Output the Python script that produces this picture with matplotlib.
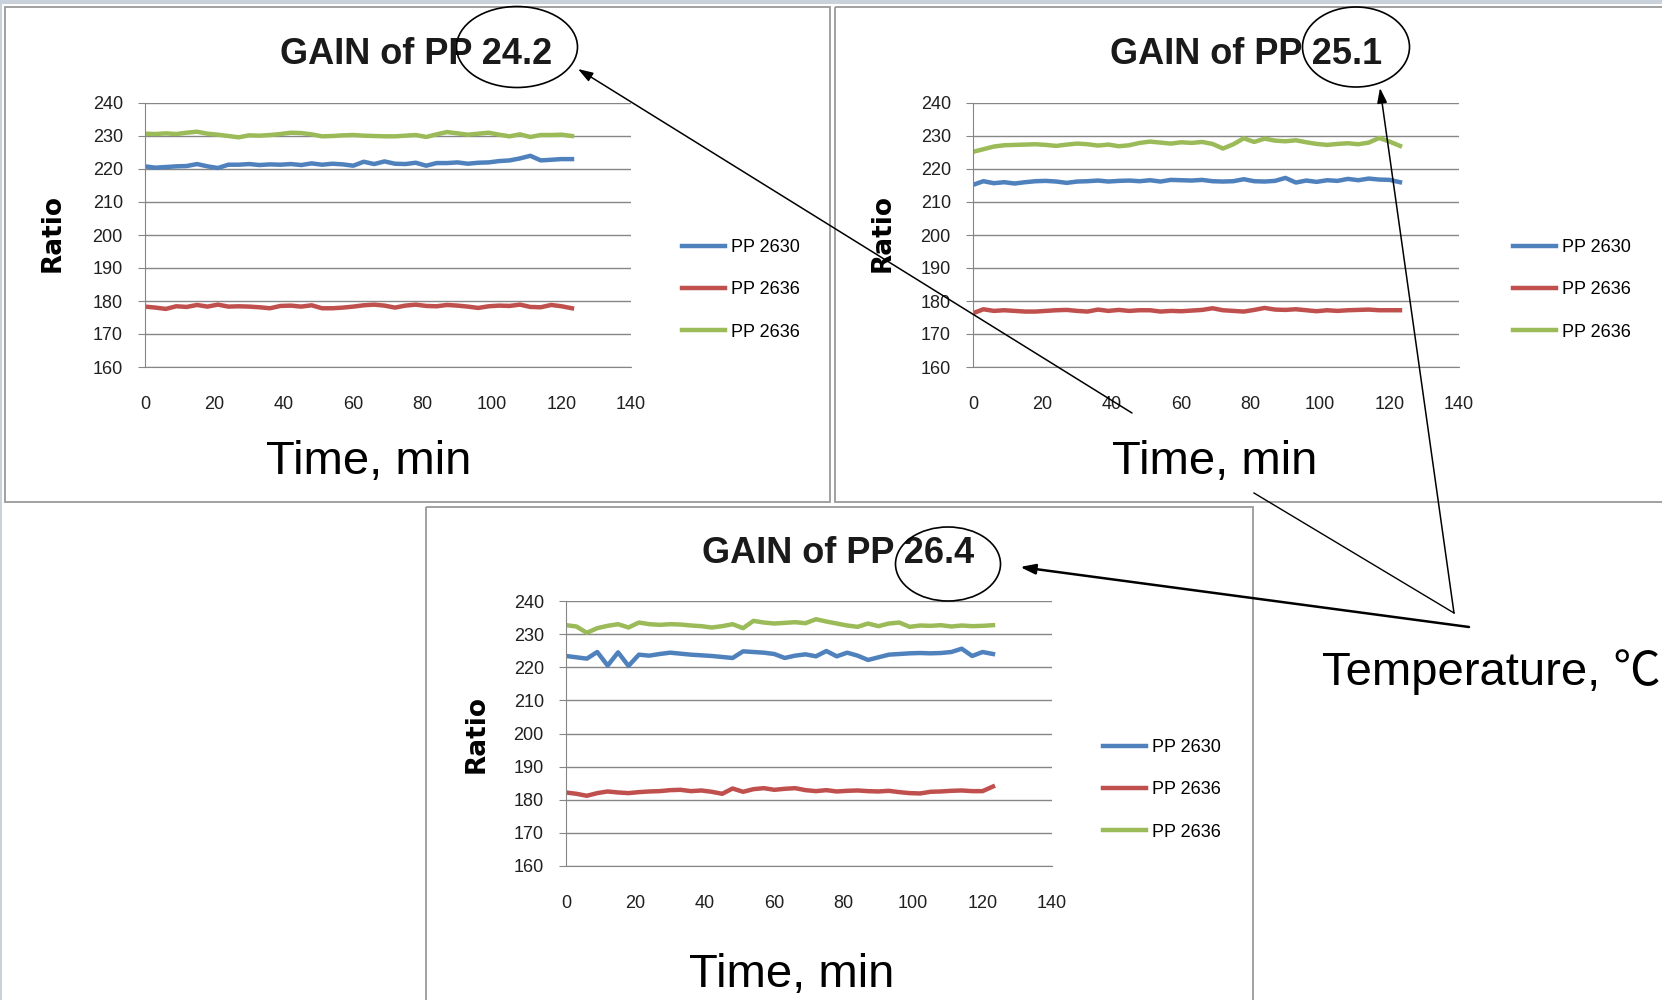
import numpy as np
import matplotlib
matplotlib.use('Agg')
import matplotlib.pyplot as plt
from matplotlib.patches import Ellipse, Rectangle

W, H = 1662, 1000

# time axis (min), one reading every 3 minutes
time = np.arange(0, 124, 3)

# --- 24.2 C ---
blue_242 = [220.8, 220.4, 220.6, 220.8, 220.9, 221.5, 220.8, 220.3, 221.3, 221.3, 221.5,
            221.2, 221.4, 221.3, 221.5, 221.2, 221.7, 221.3, 221.6, 221.4, 221.0, 222.2,
            221.5, 222.3, 221.6, 221.5, 221.9, 221.0, 221.8, 221.8, 222.0, 221.6, 221.9,
            222.0, 222.4, 222.6, 223.2, 224.0, 222.6, 222.8, 223.0, 223.0]
red_242 = [178.3, 178.0, 177.6, 178.4, 178.2, 178.8, 178.3, 178.9, 178.3, 178.4, 178.3,
           178.1, 177.8, 178.5, 178.6, 178.3, 178.7, 177.8, 177.8, 178.0, 178.3, 178.7,
           178.9, 178.6, 178.0, 178.6, 178.9, 178.5, 178.4, 178.8, 178.6, 178.3, 177.9,
           178.4, 178.6, 178.5, 178.9, 178.2, 178.1, 178.8, 178.4, 177.8]
green_242 = [230.7, 230.6, 230.8, 230.6, 231.0, 231.3, 230.7, 230.4, 230.0, 229.6, 230.2,
             230.1, 230.3, 230.6, 231.0, 230.9, 230.5, 229.9, 230.0, 230.2, 230.3, 230.1,
             230.0, 229.9, 229.9, 230.1, 230.3, 229.7, 230.5, 231.2, 230.8, 230.4, 230.7,
             231.0, 230.4, 229.9, 230.5, 229.7, 230.3, 230.3, 230.4, 230.0]

# --- 25.1 C ---
blue_251 = [215.2, 216.3, 215.7, 216.0, 215.6, 216.0, 216.3, 216.4, 216.2, 215.8, 216.2,
            216.3, 216.5, 216.2, 216.4, 216.5, 216.3, 216.6, 216.2, 216.7, 216.6, 216.5,
            216.7, 216.3, 216.2, 216.3, 216.9, 216.3, 216.2, 216.4, 217.3, 215.9, 216.5,
            216.1, 216.6, 216.4, 217.0, 216.6, 217.1, 216.8, 216.7, 216.0]
red_251 = [176.3, 177.5, 177.0, 177.2, 177.0, 176.8, 176.8, 177.0, 177.2, 177.3, 177.0,
           176.8, 177.4, 177.0, 177.3, 177.0, 177.2, 177.2, 176.8, 177.0, 176.9, 177.1,
           177.3, 177.8, 177.2, 177.0, 176.8, 177.3, 177.9, 177.4, 177.3, 177.5, 177.2,
           176.9, 177.2, 177.0, 177.2, 177.3, 177.4, 177.2, 177.2, 177.2]
green_251 = [225.2, 226.0, 226.8, 227.2, 227.3, 227.4, 227.5, 227.3, 227.0, 227.4, 227.7,
             227.5, 227.1, 227.4, 226.9, 227.2, 227.9, 228.3, 228.0, 227.7, 228.1, 227.9,
             228.2, 227.6, 226.2, 227.5, 229.3, 228.2, 229.2, 228.6, 228.4, 228.7, 228.1,
             227.6, 227.3, 227.6, 227.8, 227.5, 228.0, 229.4, 228.3, 227.0]

# --- 26.4 C ---
blue_264 = [223.4, 223.0, 222.6, 224.6, 220.5, 224.5, 220.4, 223.8, 223.5, 224.0, 224.4,
            224.1, 223.8, 223.6, 223.4, 223.1, 222.8, 224.8, 224.6, 224.4, 224.0, 222.8,
            223.5, 223.9, 223.3, 224.9, 223.3, 224.4, 223.5, 222.2, 223.0, 223.8, 224.0,
            224.2, 224.3, 224.2, 224.3, 224.6, 225.6, 223.4, 224.6, 224.0]
red_264 = [182.2, 181.8, 181.2, 182.0, 182.5, 182.2, 182.0, 182.3, 182.5, 182.6, 182.9,
           183.0, 182.6, 182.8, 182.4, 181.8, 183.4, 182.4, 183.2, 183.5, 183.0, 183.3,
           183.5, 182.9, 182.6, 182.9, 182.5, 182.7, 182.8, 182.6, 182.5, 182.7, 182.3,
           182.0, 181.9, 182.4, 182.5, 182.7, 182.8, 182.6, 182.6, 184.0]
green_264 = [232.7, 232.3, 230.4, 231.8, 232.5, 233.0, 232.0, 233.5, 233.0, 232.8, 233.0,
             232.9, 232.6, 232.4, 232.0, 232.4, 233.0, 231.8, 234.0, 233.5, 233.2, 233.4,
             233.6, 233.3, 234.5, 233.8, 233.2, 232.6, 232.2, 233.2, 232.4, 233.2, 233.5,
             232.2, 232.6, 232.5, 232.7, 232.3, 232.6, 232.4, 232.5, 232.7]

series_names = ['PP 2630', 'PP 2636', 'PP 2636']
colors = ['#4F81BD', '#C0504D', '#9BBB59']
temps = ['24.2', '25.1', '26.4']
xticks = [0, 20, 40, 60, 80, 100, 120, 140]
yticks = [160, 170, 180, 190, 200, 210, 220, 230, 240]

TICKFONT = ['Liberation Sans', 'DejaVu Sans']
TITLEFONT = ['Liberation Sans', 'DejaVu Sans']
BIGFONT = ['Liberation Sans', 'DejaVu Sans']

fig = plt.figure(figsize=(W / 100, H / 100), dpi=100)
fig.patch.set_facecolor('white')


def px(x, y):
    # pixel (from top-left) -> figure fraction
    return x / W, 1 - y / H


# panel layout in pixels: axes box (left, top, right, bottom), legend anchor, title, xlabel, ylabel
panels = [
    dict(ax=(145, 103, 631, 367), leg=(682, 290), title=(416, 64), xl=(369, 474), yl=(53, 233),
         data=(blue_242, red_242, green_242)),
    dict(ax=(973, 103, 1459, 367), leg=(1513, 290), title=(1246, 64), xl=(1215, 474), yl=(883, 233),
         data=(blue_251, red_251, green_251)),
    dict(ax=(566, 601, 1052, 866), leg=(1103, 790), title=(838, 563), xl=(792, 987), yl=(477, 734),
         data=(blue_264, red_264, green_264)),
]

for i, p in enumerate(panels):
    l, t, r, b = p['ax']
    ax = fig.add_axes([l / W, 1 - b / H, (r - l) / W, (b - t) / H])
    for vals, c, name in zip(p['data'], colors, series_names):
        ax.plot(time, vals, color=c, lw=3.2, label=name, solid_joinstyle='round')
    ax.set_xlim(0, 140)
    ax.set_ylim(160, 240)
    ax.set_xticks(xticks)
    ax.set_yticks(yticks)
    ax.grid(axis='y', color='#868686', lw=1.0)
    ax.set_axisbelow(True)
    for s in ['top', 'right']:
        ax.spines[s].set_visible(False)
    ax.spines['left'].set_color('#868686')
    ax.spines['bottom'].set_color('#868686')
    ax.tick_params(axis='x', length=0, pad=21, labelsize=13)
    ax.tick_params(axis='y', length=5, color='#868686', pad=11, labelsize=13, direction='out')
    for lab in ax.get_xticklabels() + ax.get_yticklabels():
        lab.set_family(TICKFONT)
        lab.set_color('#202020')
    lx, ly = px(*p['leg'])
    ax.legend(loc='center left', bbox_to_anchor=(lx, ly), bbox_transform=fig.transFigure,
              frameon=False, borderpad=0, borderaxespad=0, handlelength=2.4,
              handletextpad=0.3, labelspacing=1.4, prop={'family': TICKFONT, 'size': 13})

    tx, ty = px(*p['title'])
    fig.text(tx, ty, 'GAIN of PP ' + temps[i], ha='center', va='baseline', fontsize=26,
             fontweight='bold', family=TITLEFONT, color='#1a1a1a')
    xx, xy = px(*p['xl'])
    fig.text(xx, xy, 'Time, min', ha='center', va='baseline', fontsize=34, family=BIGFONT)
    yx, yy = px(*p['yl'])
    fig.text(yx, yy, 'Ratio', ha='center', va='center', rotation=90, fontsize=19,
             fontweight='bold', family=['DejaVu Sans'])

# overlay for panel frames, circles and arrows (pixel coordinates)
ov = fig.add_axes([0, 0, 1, 1], zorder=10)
ov.set_xlim(0, W)
ov.set_ylim(H, 0)
ov.axis('off')
ov.patch.set_alpha(0)

ov.add_patch(Rectangle((0, 0), W, 4, facecolor='#c9d2da', edgecolor='none'))
ov.add_patch(Rectangle((0, 0), 2, H, facecolor='#c9d2da', edgecolor='none'))
for (x0, y0, x1, y1) in [(5, 7, 830, 502), (835, 7, 1670, 502), (426, 507, 1253, 1010)]:
    ov.add_patch(Rectangle((x0, y0), x1 - x0, y1 - y0, facecolor='none',
                           edgecolor='#9a9a9a', lw=1.3))

for (cx, cy, ew, eh) in [(517, 47, 121, 81), (1356, 47, 107, 80), (948, 564, 105, 74)]:
    ov.add_patch(Ellipse((cx, cy), ew, eh, facecolor='none', edgecolor='black', lw=1.2))

arrow_kw = dict(arrowstyle='-|>,head_length=0.9,head_width=0.3', color='black', shrinkA=0, shrinkB=0)
ov.annotate('', xy=(578, 69), xytext=(1132, 413), arrowprops=dict(lw=1.1, **arrow_kw))
ov.annotate('', xy=(1380, 88), xytext=(1454, 613), arrowprops=dict(lw=1.1, **arrow_kw))
ov.annotate('', xy=(1020, 567), xytext=(1469, 627), arrowprops=dict(lw=1.8, **arrow_kw))
ov.plot([1254, 1454], [493, 613], color='black', lw=1.0)

ov.text(1322, 685, 'Temperature, \u2103', ha='left', va='baseline', fontsize=34,
        family=['Liberation Sans', 'Noto Sans CJK SC', 'DejaVu Sans'], clip_on=False)

fig.savefig('out.png', dpi=100)
